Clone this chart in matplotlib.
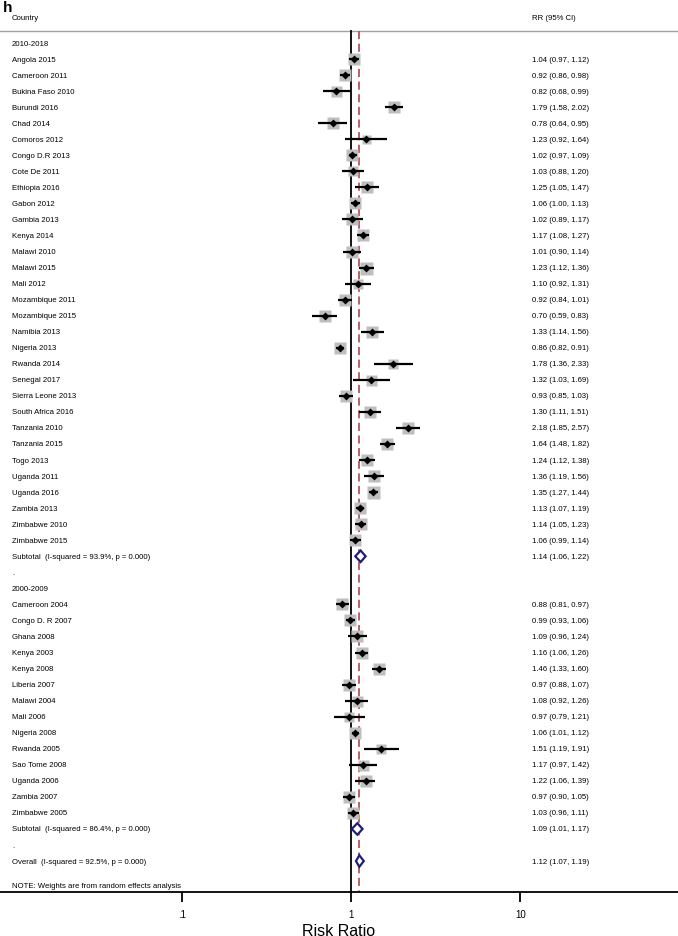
import numpy as np
import matplotlib
matplotlib.use("Agg")
import matplotlib.pyplot as plt
from matplotlib.patches import Polygon
from matplotlib.transforms import blended_transform_factory

plt.rcParams['font.family'] = ['Liberation Sans', 'DejaVu Sans']

# ---- datos: grupo 2010-2018
paises_1 = ["Angola 2015", "Cameroon 2011", "Bukina Faso 2010", "Burundi 2016", "Chad 2014",
            "Comoros 2012", "Congo D.R 2013", "Cote De 2011", "Ethiopia 2016", "Gabon 2012",
            "Gambia 2013", "Kenya 2014", "Malawi 2010", "Malawi 2015", "Mali 2012",
            "Mozambique 2011", "Mozambique 2015", "Namibia 2013", "Nigeria 2013", "Rwanda 2014",
            "Senegal 2017", "Sierra Leone 2013", "South Africa 2016", "Tanzania 2010", "Tanzania 2015",
            "Togo 2013", "Uganda 2011", "Uganda 2016", "Zambia 2013", "Zimbabwe 2010", "Zimbabwe 2015"]
rr_1 = [1.04, 0.92, 0.82, 1.79, 0.78, 1.23, 1.02, 1.03, 1.25, 1.06, 1.02, 1.17, 1.01, 1.23, 1.10,
        0.92, 0.70, 1.33, 0.86, 1.78, 1.32, 0.93, 1.30, 2.18, 1.64, 1.24, 1.36, 1.35, 1.13, 1.14, 1.06]
lo_1 = [0.97, 0.86, 0.68, 1.58, 0.64, 0.92, 0.97, 0.88, 1.05, 1.00, 0.89, 1.08, 0.90, 1.12, 0.92,
        0.84, 0.59, 1.14, 0.82, 1.36, 1.03, 0.85, 1.11, 1.85, 1.48, 1.12, 1.19, 1.27, 1.07, 1.05, 0.99]
hi_1 = [1.12, 0.98, 0.99, 2.02, 0.95, 1.64, 1.09, 1.20, 1.47, 1.13, 1.17, 1.27, 1.14, 1.36, 1.31,
        1.01, 0.83, 1.56, 0.91, 2.33, 1.69, 1.03, 1.51, 2.57, 1.82, 1.38, 1.56, 1.44, 1.19, 1.23, 1.14]
caja_1 = [11.7, 11.3, 11, 12.7, 11.7, 9, 11.7, 10.7, 12.3, 11.7, 11.7, 12, 12, 13, 10.7,
          12, 12, 12, 12.5, 10.5, 11, 12, 12, 11.5, 12.5, 12, 12, 13, 12.5, 12.5, 12]

# ---- grupo 2000-2009
paises_2 = ["Cameroon 2004", "Congo D. R 2007", "Ghana 2008", "Kenya 2003", "Kenya 2008",
            "Liberia 2007", "Malawi 2004", "Mali 2006", "Nigeria 2008", "Rwanda 2005",
            "Sao Tome 2008", "Uganda 2006", "Zambia 2007", "Zimbabwe 2005"]
rr_2 = [0.88, 0.99, 1.09, 1.16, 1.46, 0.97, 1.08, 0.97, 1.06, 1.51, 1.17, 1.22, 0.97, 1.03]
lo_2 = [0.81, 0.93, 0.96, 1.06, 1.33, 0.88, 0.92, 0.79, 1.01, 1.19, 0.97, 1.06, 0.90, 0.96]
hi_2 = [0.97, 1.06, 1.24, 1.26, 1.60, 1.07, 1.26, 1.21, 1.12, 1.91, 1.42, 1.39, 1.05, 1.11]
caja_2 = [12.5, 12, 11.5, 12.5, 12.5, 12, 11, 10.5, 12.5, 10.5, 11, 11.5, 12, 12.5]

# subtotales y total
sub_etiquetas = ["Subtotal  (I-squared = 93.9%, p = 0.000)", "Subtotal  (I-squared = 86.4%, p = 0.000)"]
sub_rr = [1.14, 1.09]
sub_lo = [1.06, 1.01]
sub_hi = [1.22, 1.17]
overall_etiqueta = "Overall  (I-squared = 92.5%, p = 0.000)"
overall_rr, overall_lo, overall_hi = 1.12, 1.07, 1.19

ticks = [0.1, 1, 10]
tick_labels = [".1", "1", "10"]

# ---- filas (orden vertical)
filas = []  # (fila, tipo, etiqueta, rr, lo, hi, caja)
fila = 0
filas.append((fila, "grupo", "2010-2018", None, None, None, None)); fila += 1
for i in range(len(paises_1)):
    filas.append((fila, "estudio", paises_1[i], rr_1[i], lo_1[i], hi_1[i], caja_1[i])); fila += 1
filas.append((fila, "sub", sub_etiquetas[0], sub_rr[0], sub_lo[0], sub_hi[0], None)); fila += 1
filas.append((fila, "punto", ".", None, None, None, None)); fila += 1
filas.append((fila, "grupo", "2000-2009", None, None, None, None)); fila += 1
for i in range(len(paises_2)):
    filas.append((fila, "estudio", paises_2[i], rr_2[i], lo_2[i], hi_2[i], caja_2[i])); fila += 1
filas.append((fila, "sub", sub_etiquetas[1], sub_rr[1], sub_lo[1], sub_hi[1], None)); fila += 1
filas.append((fila, "punto", ".", None, None, None, None)); fila += 1
filas.append((fila, "sub", overall_etiqueta, overall_rr, overall_lo, overall_hi, None))
fila_nota = fila + 1.55

W, H = 678, 937
fig = plt.figure(figsize=(W / 100, H / 100), dpi=100)
eje_y = 893  # pixel del eje x
ax = fig.add_axes([0, 1 - eje_y / H, 1, eje_y / H])
paso = 16.04
ax.set_ylim((eje_y - 44) / paso, -44 / paso)
ax.set_xscale("log")
ax.set_xlim(10 ** (-351 / 169.3), 10 ** ((W - 351) / 169.3))

trans_txt = blended_transform_factory(fig.transFigure, ax.transData)
x_izq = 12 / W
x_ci = 532 / W
fs = 5.6

linea_top = -0.75
ax.axhline(linea_top, color="#a0a0a0", lw=1.0, clip_on=False)
ax.plot([1, 1], [linea_top, ax.get_ylim()[0]], color="black", lw=1.3, zorder=2)
ax.plot([overall_rr, overall_rr], [linea_top, ax.get_ylim()[0]], color="#b5545c", lw=1.3,
        dashes=(4.5, 2.5), zorder=2)

for (f, tipo, etiqueta, rr, lo, hi, caja) in filas:
    ax.text(x_izq, f, etiqueta, transform=trans_txt, fontsize=fs, va="center", ha="left")
    if tipo == "estudio":
        ax.plot(rr, f, marker="s", ms=caja * 0.72, color="#bebebe", mec="none", zorder=3)
        ax.plot([lo, hi], [f, f], color="black", lw=1.6, zorder=4, solid_capstyle="butt")
        ax.plot(rr, f, marker="D", ms=4.2, color="black", mec="none", zorder=5)
        ax.text(x_ci, f, f"{rr:.2f} ({lo:.2f}, {hi:.2f})", transform=trans_txt,
                fontsize=fs, va="center", ha="left")
    elif tipo == "sub":
        h = 0.36
        diamante = Polygon([[lo, f], [rr, f - h], [hi, f], [rr, f + h]], closed=True,
                           facecolor="white", edgecolor="#1f1f7a", lw=1.6, zorder=5)
        ax.add_patch(diamante)
        ax.text(x_ci, f, f"{rr:.2f} ({lo:.2f}, {hi:.2f})", transform=trans_txt,
                fontsize=fs, va="center", ha="left")

ax.text(x_izq, fila_nota, "NOTE: Weights are from random effects analysis", transform=trans_txt,
        fontsize=fs, va="center", ha="left")

# encabezados
ax.text(x_izq, (19 - 44) / paso, "Country", transform=trans_txt, fontsize=fs, va="center", ha="left")
ax.text(x_ci, (19 - 44) / paso, "RR (95% CI)", transform=trans_txt, fontsize=fs, va="center", ha="left")
fig.text(3 / W, 1 - 8 / H, "h", fontsize=11, fontweight="bold", va="center", ha="left")

# ejes
for lado in ["left", "right", "top"]:
    ax.spines[lado].set_visible(False)
ax.spines["bottom"].set_linewidth(1.3)
ax.set_yticks([])
ax.set_xticks(ticks)
ax.set_xticklabels(tick_labels)
ax.xaxis.set_minor_locator(matplotlib.ticker.NullLocator())
ax.tick_params(axis="x", direction="out", length=7, width=1.3, labelsize=7, pad=5)
ax.set_xlabel("Risk Ratio", fontsize=11.5, labelpad=3)

fig.savefig("out.png", dpi=100)
